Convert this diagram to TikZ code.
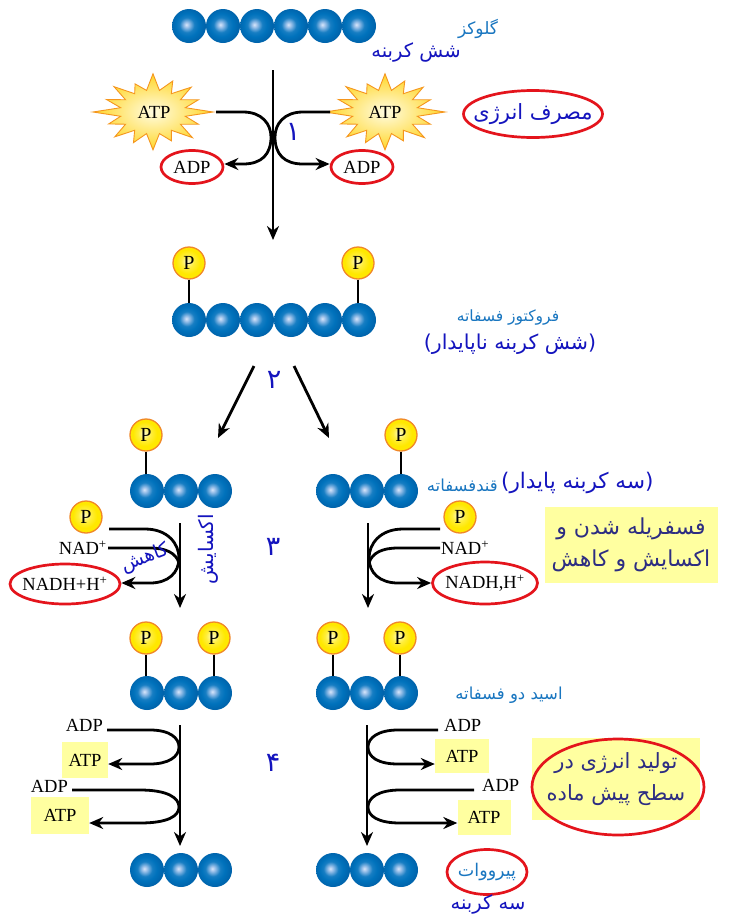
\documentclass[tikz,border=0pt]{standalone}
\usepackage{fontspec}
\setmainfont{Liberation Serif}
\newfontfamily\farsi[Script=Arabic]{DejaVu Sans}
\TeXXeTstate=1
\usetikzlibrary{arrows.meta,shapes.geometric}
\definecolor{beadblue}{RGB}{0,114,188}
\definecolor{beadhi}{RGB}{215,230,250}
\definecolor{beadmid}{RGB}{150,190,232}
\definecolor{beadedge}{RGB}{0,100,172}
\definecolor{pyel}{RGB}{255,232,0}
\definecolor{pyelhi}{RGB}{255,252,200}
\definecolor{porange}{RGB}{240,135,40}
\definecolor{lblue}{RGB}{25,118,192}
\definecolor{dblue}{RGB}{20,20,190}
\definecolor{navy}{RGB}{45,45,130}
\definecolor{boxyel}{RGB}{255,255,160}
\definecolor{ered}{RGB}{228,20,28}
\definecolor{starin}{RGB}{255,252,225}
\definecolor{starout}{RGB}{255,214,40}
\definecolor{starline}{RGB}{245,150,30}
\pgfdeclareradialshading{beadshade}{\pgfpoint{-4bp}{2bp}}{color(0bp)=(beadhi); color(4bp)=(beadmid); color(11bp)=(beadblue!85!beadmid); color(17bp)=(beadblue); color(25bp)=(beadedge); color(50bp)=(beadedge)}
\pgfdeclareradialshading{pshade}{\pgfpoint{-3bp}{3bp}}{color(0bp)=(pyelhi); color(10bp)=(pyel!70!pyelhi); color(19bp)=(pyel); color(25bp)=(pyel); color(50bp)=(pyel)}
\newcommand\fatx[1]{\beginR #1\endR}
\tikzset{
  bead/.style={circle, minimum size=34pt, inner sep=0pt, shade, shading=beadshade},
  pball/.style={circle, minimum size=32pt, inner sep=0pt, shade, shading=pshade, draw=porange, line width=1.3pt, font=\fontsize{20}{20}\selectfont},
  stem/.style={line width=2.6pt, black},
  flow/.style={line width=2.8pt, -{Stealth[length=14pt,width=12pt]}},
  plain/.style={line width=2.8pt},
  lat/.style={font=\fontsize{18.5}{18.5}\selectfont, inner sep=1pt},
  redell/.style={ellipse, draw=ered, line width=2.7pt, inner sep=0pt},
  atpbox/.style={fill=boxyel, inner sep=0pt, font=\fontsize{18.5}{18.5}\selectfont},
  fasmall/.style={font=\farsi\fontsize{15.5}{17}\selectfont, text=lblue, inner sep=0pt},
  fabig/.style={font=\farsi\fontsize{19}{21}\selectfont, text=dblue, inner sep=0pt},
  num/.style={font=\farsi\fontsize{27}{27}\selectfont, text=dblue, inner sep=0pt},
  note/.style={fill=boxyel, font=\farsi\fontsize{22}{32}\selectfont, text=navy, align=center, inner sep=0pt},
  starsty/.style={draw=starline, line width=0.9pt, inner color=starin, outer color=starout}
}
\newcommand\atpstar[2]{%
  \begin{scope}[shift={(#1,#2)}]
    \shadedraw[starsty] (0:60 and 38) \foreach \k in {1,...,31}{
      -- ({\k*11.25}:{(mod(\k,2)==0 ? 60*{1,.82,.93,.8,.97,.85,.9,.8,1,.84,.92,.78,.98,.86,.9,.82}[int(\k/2)] : 33)} and {(mod(\k,2)==0 ? 39*{1,.82,.93,.8,.97,.85,.9,.8,1,.84,.92,.78,.98,.86,.9,.82}[int(\k/2)] : 22)})} -- cycle;
  \end{scope}}
\begin{document}
\begin{tikzpicture}[x=1pt,y=-1pt]
\useasboundingbox[fill=white] (0,0) rectangle (729,916);

% ---------- glucose ----------
\foreach \i in {1,...,6} \node[bead] (g\i) at ({189+(\i-1)*34},26) {};
\node[fasmall, font=\farsi\fontsize{17}{17}\selectfont, anchor=south] (glu) at (478,39) {\fatx{گلوکز}};
\node[fabig, font=\farsi\fontsize{19.5}{19.5}\selectfont] (six) at (416,52) {\fatx{شش کربنه}};

% ---------- step 1 ----------
\atpstar{153}{112}
\atpstar{385}{112}
\node[lat] (atpL) at (154,112) {ATP};
\node[lat] (atpR) at (385,112) {ATP};
\node[redell, minimum width=62pt, minimum height=33pt] (adpL) at (192,167) {};
\node[redell, minimum width=62pt, minimum height=33pt] (adpR) at (362,167) {};
\node[lat] (adpLt) at (adpL) {ADP};
\node[lat] (adpRt) at (adpR) {ADP};
\coordinate (s1a) at (273,70);
\coordinate (s1b) at (273,240);
\coordinate (atpLo) at (216,112);
\coordinate (atpRo) at (330,112);
\draw[flow] (s1a) -- (s1b);
\draw[flow] (atpLo) -- (243,112) .. controls (262,112) and (271,124) .. (271,137) .. controls (271,154) and (262,164) .. (243,164) -- (adpL.east |- 0,164);
\draw[flow] (atpRo) -- (303,112) .. controls (284,112) and (275,124) .. (275,137) .. controls (275,154) and (284,164) .. (303,164) -- (adpR.west |- 0,164);
\node[num] (n1) at (293,132) {\fatx{۱}};
\node[redell, minimum width=139pt, minimum height=47pt] (masraf) at (533,114) {};
\node[fabig, font=\farsi\fontsize{21}{21}\selectfont] (masraft) at (masraf) {\fatx{مصرف انرژی}};

% ---------- fructose bisphosphate ----------
\foreach \i in {1,...,6} \node[bead] (f\i) at ({189+(\i-1)*34},320) {};
\node[pball] (fp1) at (189,263) {P};
\node[pball] (fp2) at (358,263) {P};
\draw[stem] (fp1.south) -- (fp1.south |- f1.north);
\draw[stem] (fp2.south) -- (fp2.south |- f6.north);
\node[fasmall] (fru) at (508,317) {\fatx{فروکتوز فسفاته}};
\node[fabig, font=\farsi\fontsize{20.5}{20.5}\selectfont] (unst) at (510,344) {\fatx{(شش کربنه ناپایدار)}};

% ---------- step 2 ----------
\coordinate (s2a) at (254,366);
\coordinate (s2b) at (218,438);
\coordinate (s2c) at (294,366);
\coordinate (s2d) at (329,438);
\draw[flow] (s2a) -- (s2b);
\draw[flow] (s2c) -- (s2d);
\node[num] (n2) at (274,380) {\fatx{۲}};

% ---------- sugar phosphates ----------
\foreach \i in {1,...,3} \node[bead] (a\i) at ({147+(\i-1)*34},491) {};
\foreach \i in {1,...,3} \node[bead] (b\i) at ({333+(\i-1)*34},491) {};
\node[pball] (ap) at (146,435) {P};
\node[pball] (bp) at (401,435) {P};
\draw[stem] (ap.south) -- (ap.south |- a1.north);
\draw[stem] (bp.south) -- (bp.south |- b3.north);
\node[fasmall, font=\farsi\fontsize{16.5}{16.5}\selectfont, anchor=east] (qand) at (498,485) {\fatx{قندفسفاته}};
\node[fabig, font=\farsi\fontsize{21.5}{21.5}\selectfont, anchor=west] (stab) at (501,483) {\fatx{(سه کربنه پایدار)}};

% ---------- step 3 left ----------
\node[pball] (p3L) at (86,517) {P};
\node[lat, anchor=east] (nadL) at (108,548) {NAD\textsuperscript{+}};
\node[redell, minimum width=110pt, minimum height=40pt] (nadhL) at (65,584) {};
\node[lat] (nadhLt) at (nadhL) {NADH+H\textsuperscript{+}};
\coordinate (v3La) at (180,523);
\coordinate (v3Lb) at (180,608);
\draw[flow] (v3La) -- (v3Lb);
\coordinate (p3Lo) at (109,529);
\draw[flow] (p3Lo) -- (145,529) .. controls (168,529) and (179,544) .. (179,558) .. controls (179,573) and (168,583) .. (150,583) -- (nadhL.east |- 0,583);
\draw[plain] (nadL.east) -- (150,548) .. controls (166,548) and (176,553) .. (179,563);
\node[fabig, font=\farsi\fontsize{19}{19}\selectfont, rotate=20] (kahesh) at (145,558) {\fatx{کاهش}};
\node[fabig, font=\farsi\fontsize{20}{20}\selectfont, rotate=90] (oxid) at (208,549) {\fatx{اکسایش}};
\node[num] (n3) at (273,547) {\fatx{۳}};

% ---------- step 3 right ----------
\node[pball] (p3R) at (460,517) {P};
\node[lat, anchor=west] (nadR) at (440,548) {NAD\textsuperscript{+}};
\node[redell, minimum width=105pt, minimum height=42pt] (nadhR) at (485,583) {};
\node[lat] (nadhRt) at (nadhR) {NADH,H\textsuperscript{+}};
\coordinate (v3Ra) at (368,523);
\coordinate (v3Rb) at (368,608);
\draw[flow] (v3Ra) -- (v3Rb);
\coordinate (p3Ro) at (440,529);
\draw[flow] (p3Ro) -- (403,529) .. controls (380,529) and (369,544) .. (369,558) .. controls (369,573) and (380,583) .. (398,583) -- (nadhR.west |- 0,583);
\draw[plain] (nadR.west) -- (398,548) .. controls (382,548) and (372,553) .. (369,563);
\node[note, minimum width=173pt, minimum height=76pt] (phos) at (631,545) {\fatx{فسفریله شدن و}\\\fatx{اکسایش و کاهش}};

% ---------- bisphosphoglycerate ----------
\foreach \i in {1,...,3} \node[bead] (c\i) at ({147+(\i-1)*34},693) {};
\foreach \i in {1,...,3} \node[bead] (d\i) at ({333+(\i-1)*34},693) {};
\node[pball] (cp1) at (146,638) {P};
\node[pball] (cp2) at (214,638) {P};
\node[pball] (dp1) at (333,638) {P};
\node[pball] (dp2) at (400,638) {P};
\draw[stem] (cp1.south) -- (cp1.south |- c1.north);
\draw[stem] (cp2.south) -- (cp2.south |- c3.north);
\draw[stem] (dp1.south) -- (dp1.south |- d1.north);
\draw[stem] (dp2.south) -- (dp2.south |- d3.north);
\node[fasmall, font=\farsi\fontsize{16.5}{16.5}\selectfont] (bpg) at (509,695) {\fatx{اسید دو فسفاته}};

% ---------- step 4 left ----------
\coordinate (v4La) at (180,725);
\coordinate (v4Lb) at (180,846);
\draw[flow] (v4La) -- (v4Lb);
\node[lat, anchor=east] (adp1L) at (104,725) {ADP};
\node[atpbox, minimum width=46pt, minimum height=36pt] (atp1L) at (85,760) {ATP};
\node[lat, anchor=east] (adp2L) at (69,786) {ADP};
\node[atpbox, minimum width=58pt, minimum height=37pt] (atp2L) at (60,815) {ATP};
\coordinate (a1Lo) at (107,730);
\coordinate (a2Lo) at (72,790);
\draw[flow] (a1Lo) -- (150,730) .. controls (170,730) and (179,738) .. (179,747) .. controls (179,757) and (168,764) .. (150,764) -- (atp1L.east |- 0,764);
\draw[flow] (a2Lo) -- (140,790) .. controls (168,790) and (179,798) .. (179,807) .. controls (179,816) and (168,823) .. (140,823) -- (atp2L.east |- 0,823);
\node[num] (n4) at (273,763) {\fatx{۴}};

% ---------- step 4 right ----------
\coordinate (v4Ra) at (367,725);
\coordinate (v4Rb) at (367,846);
\draw[flow] (v4Ra) -- (v4Rb);
\node[lat, anchor=west] (adp1R) at (443,725) {ADP};
\node[atpbox, minimum width=54pt, minimum height=34pt] (atp1R) at (462,756) {ATP};
\node[lat, anchor=west] (adp2R) at (481,785) {ADP};
\node[atpbox, minimum width=53pt, minimum height=35pt] (atp2R) at (484,817) {ATP};
\coordinate (a1Ro) at (438,730);
\coordinate (a2Ro) at (474,790);
\draw[flow] (a1Ro) -- (398,730) .. controls (378,730) and (368,738) .. (368,747) .. controls (368,757) and (378,764) .. (398,764) -- (atp1R.west |- 0,764);
\draw[flow] (a2Ro) -- (400,790) .. controls (378,790) and (368,798) .. (368,807) .. controls (368,816) and (378,823) .. (400,823) -- (atp2R.west |- 0,823);
\node[note, minimum width=168pt, minimum height=82pt, font=\farsi\fontsize{21}{32}\selectfont] (energy) at (616,779) {\fatx{تولید انرژی در}\\\fatx{سطح پیش ماده}};
\node[redell, minimum width=172pt, minimum height=96pt] (energyell) at (618,787) {};

% ---------- pyruvate ----------
\foreach \i in {1,...,3} \node[bead] (e\i) at ({147+(\i-1)*34},870) {};
\foreach \i in {1,...,3} \node[bead] (h\i) at ({333+(\i-1)*34},870) {};
\node[redell, minimum width=80pt, minimum height=45pt] (pyr) at (487,872) {};
\node[fasmall, font=\farsi\fontsize{17.5}{17.5}\selectfont] (pyrt) at (pyr) {\fatx{پیرووات}};
\node[fabig, font=\farsi\fontsize{19.5}{19.5}\selectfont] (three) at (488,904) {\fatx{سه کربنه}};
\end{tikzpicture}
\end{document}
